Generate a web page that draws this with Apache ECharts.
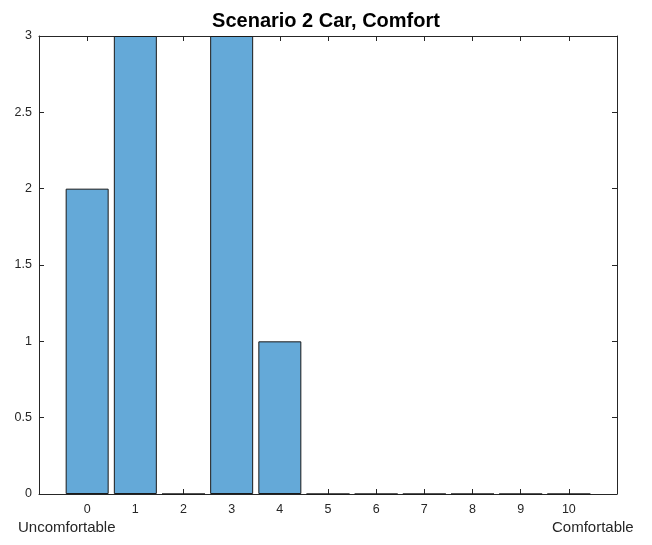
<!DOCTYPE html>
<html>
<head>
<meta charset="utf-8">
<script src="https://cdn.jsdelivr.net/npm/echarts@6/dist/echarts.min.js"></script>
<style>
  html, body { margin: 0; padding: 0; background: #fff; }
  #chart { width: 652px; height: 545px; }
</style>
</head>
<body>
<div id="chart"></div>
<script>
// comfort ratings 0..10 and how many answers got each
var ratings = [0, 1, 2, 3, 4, 5, 6, 7, 8, 9, 10];
var counts = [2, 3, 0, 3, 1, 0, 0, 0, 0, 0, 0];
var yTicks = [0, 0.5, 1, 1.5, 2, 2.5, 3];

var chart = echarts.init(document.getElementById('chart'));

var axisCol = '#262626';
var font = 'Liberation Sans, Arial, sans-serif';
var barData = ratings.map(function (r, i) { return [r, counts[i]]; });

function xAxisBase(pos, showLabels) {
  return {
    type: 'value',
    position: pos,
    min: -1,
    max: 11,
    interval: 1,
    axisLine: { show: true, onZero: false, lineStyle: { color: axisCol, width: 1 } },
    axisTick: { show: true, inside: true, length: 5, lineStyle: { color: axisCol } },
    axisLabel: {
      show: showLabels,
      color: axisCol,
      fontSize: 12.5,
      fontFamily: font,
      margin: 9,
      formatter: function (v) { return (v < 0 || v > 10) ? '' : String(v); }
    },
    splitLine: { show: false }
  };
}

function yAxisBase(pos, showLabels) {
  return {
    type: 'value',
    position: pos,
    min: 0,
    max: 3,
    interval: 0.5,
    axisLine: { show: true, onZero: false, lineStyle: { color: axisCol, width: 1 } },
    axisTick: { show: true, inside: true, length: 5, lineStyle: { color: axisCol } },
    axisLabel: {
      show: showLabels,
      color: axisCol,
      fontSize: 12.5,
      fontFamily: font,
      margin: 7,
      formatter: function (v) { return yTicks.indexOf(v) >= 0 ? String(v) : ''; }
    },
    splitLine: { show: false }
  };
}

chart.setOption({
  animation: false,
  backgroundColor: '#fff',
  title: {
    text: 'Scenario 2 Car, Comfort',
    left: 'center',
    top: 6,
    textStyle: { fontSize: 20, fontWeight: 'bold', color: '#000', fontFamily: font }
  },
  grid: { left: 39, right: 35, top: 36, bottom: 51 },
  xAxis: [xAxisBase('bottom', true), xAxisBase('top', false)],
  yAxis: [yAxisBase('left', true), yAxisBase('right', false)],
  graphic: [
    { type: 'text', left: 18, top: 520, style: { text: 'Uncomfortable', fontSize: 15, fill: axisCol, fontFamily: font } },
    { type: 'text', left: 552, top: 520, style: { text: 'Comfortable', fontSize: 15, fill: axisCol, fontFamily: font } }
  ],
  series: [{
    type: 'bar',
    xAxisIndex: 0,
    yAxisIndex: 0,
    barWidth: 43,
    data: barData,
    itemStyle: { color: '#64A9D8', borderColor: '#1a1a1a', borderWidth: 1 }
  }]
});
</script>
</body>
</html>
